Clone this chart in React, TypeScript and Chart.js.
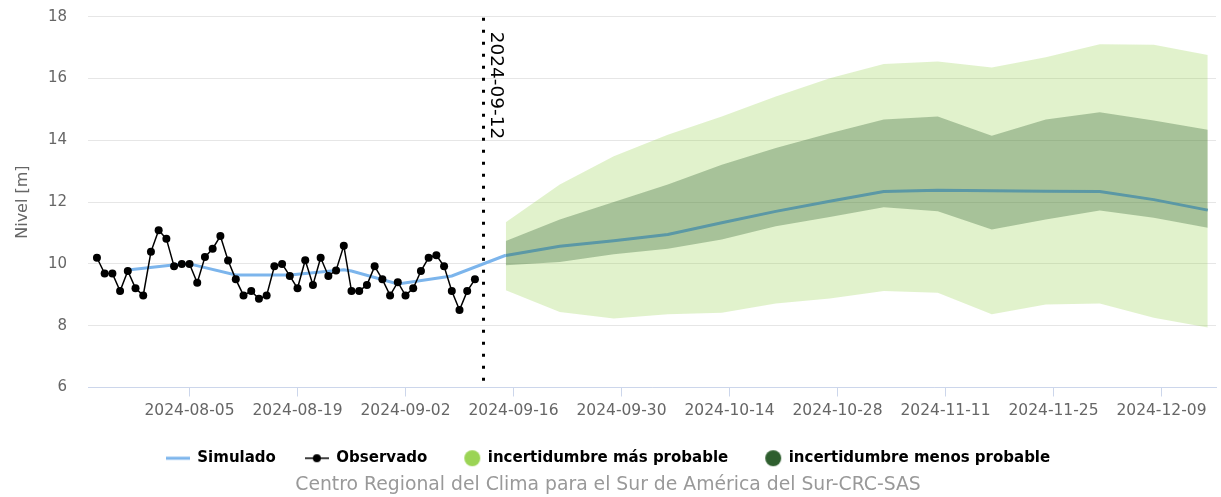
import React, { useEffect, useRef } from "react";
import { Chart, registerables } from "chart.js";

Chart.register(...registerables);

// ---------- data ----------
const observedDates = [
  "2024-07-24", "2024-07-25", "2024-07-26", "2024-07-27", "2024-07-28", "2024-07-29", "2024-07-30", "2024-07-31",
  "2024-08-01", "2024-08-02", "2024-08-03", "2024-08-04", "2024-08-05", "2024-08-06", "2024-08-07", "2024-08-08",
  "2024-08-09", "2024-08-10", "2024-08-11", "2024-08-12", "2024-08-13", "2024-08-14", "2024-08-15", "2024-08-16",
  "2024-08-17", "2024-08-18", "2024-08-19", "2024-08-20", "2024-08-21", "2024-08-22", "2024-08-23", "2024-08-24",
  "2024-08-25", "2024-08-26", "2024-08-27", "2024-08-28", "2024-08-29", "2024-08-30", "2024-08-31", "2024-09-01",
  "2024-09-02", "2024-09-03", "2024-09-04", "2024-09-05", "2024-09-06", "2024-09-07", "2024-09-08", "2024-09-09",
  "2024-09-10", "2024-09-11",
];
const observedValues = [
  10.2, 9.69, 9.69, 9.12, 9.77, 9.21, 8.98, 10.39,
  11.09, 10.81, 9.92, 10.0, 10.0, 9.39, 10.22, 10.49,
  10.9, 10.11, 9.5, 8.98, 9.12, 8.87, 8.98, 9.92,
  10.0, 9.61, 9.21, 10.12, 9.32, 10.2, 9.61, 9.79,
  10.59, 9.12, 9.12, 9.32, 9.92, 9.5, 8.98, 9.41,
  8.98, 9.21, 9.77, 10.2, 10.28, 9.92, 9.12, 8.51,
  9.12, 9.5,
];

const simulatedDates = [
  "2024-07-28", "2024-08-04", "2024-08-05", "2024-08-11", "2024-08-18",
  "2024-08-25", "2024-08-26", "2024-09-01", "2024-09-08", "2024-09-15",
];
const simulatedValues = [9.8, 10.0, 10.0, 9.64, 9.64, 9.81, 9.77, 9.35, 9.61, 10.28];

const forecastDates = [
  "2024-09-15", "2024-09-22", "2024-09-29", "2024-10-06", "2024-10-13", "2024-10-20", "2024-10-27",
  "2024-11-03", "2024-11-10", "2024-11-17", "2024-11-24", "2024-12-01", "2024-12-08", "2024-12-15",
];
const forecastMedian = [10.27, 10.57, 10.75, 10.95, 11.33, 11.7, 12.03, 12.34, 12.38, 12.37, 12.35, 12.34, 12.08, 11.74];
const innerLow = [9.96, 10.06, 10.31, 10.49, 10.79, 11.22, 11.52, 11.83, 11.7, 11.11, 11.44, 11.73, 11.49, 11.17];
const innerHigh = [10.74, 11.44, 12.0, 12.57, 13.21, 13.75, 14.23, 14.67, 14.77, 14.15, 14.67, 14.91, 14.64, 14.34];
const outerLow = [9.15, 8.44, 8.23, 8.37, 8.42, 8.72, 8.88, 9.12, 9.07, 8.37, 8.69, 8.72, 8.26, 7.94];
const outerHigh = [11.35, 12.57, 13.48, 14.18, 14.77, 15.42, 16.01, 16.47, 16.55, 16.36, 16.69, 17.11, 17.09, 16.76];

const xTickLabels = [
  "2024-08-05", "2024-08-19", "2024-09-02", "2024-09-16", "2024-09-30",
  "2024-10-14", "2024-10-28", "2024-11-11", "2024-11-25", "2024-12-09",
];
const yTicks = [6, 8, 10, 12, 14, 16, 18];
const axisStart = "2024-07-22T20:10";
const axisEnd = "2024-12-16T01:40";
const forecastIssueDate = "2024-09-12";

const legendLabels = ["Simulado", "Observado", "incertidumbre más probable", "incertidumbre menos probable"];
const creditText = "Centro Regional del Clima para el Sur de América del Sur-CRC-SAS";
const yTitle = "Nivel [m]";

// ---------- helpers ----------
const ORIGIN = Date.UTC(2024, 7, 5);
function toDay(s: string): number {
  const [d, t] = s.split("T");
  const [y, m, dd] = d.split("-").map(Number);
  let ms = Date.UTC(y, m - 1, dd);
  if (t) {
    const [hh, mm] = t.split(":").map(Number);
    ms += (hh * 60 + mm) * 60000;
  }
  return (ms - ORIGIN) / 86400000;
}
const pts = (dates: string[], vals: number[]) => dates.map((d, i) => ({ x: toDay(d), y: vals[i] }));

const FONT = "'DejaVu Sans', sans-serif";
const BLUE = "#7cb5ec";
const TEAL = "rgb(91,152,165)";
const LIGHT = "rgba(155,212,85,0.3)";
const DARK = "rgba(46,94,46,0.32)";

function makeIcon(kind: string): HTMLCanvasElement {
  const c = document.createElement("canvas");
  const w = kind === "line" || kind === "obs" ? 24 : 34;
  c.width = w;
  c.height = 18;
  const g = c.getContext("2d")!;
  if (kind === "line") {
    g.strokeStyle = BLUE;
    g.lineWidth = 3;
    g.beginPath();
    g.moveTo(0, 9);
    g.lineTo(24, 9);
    g.stroke();
  } else if (kind === "obs") {
    g.strokeStyle = "#000";
    g.lineWidth = 1.5;
    g.beginPath();
    g.moveTo(0, 9);
    g.lineTo(24, 9);
    g.stroke();
    g.fillStyle = "#000";
    g.beginPath();
    g.arc(12, 9, 4, 0, Math.PI * 2);
    g.fill();
  } else {
    g.fillStyle = kind === "light" ? "#9bd455" : "#2e5e2e";
    g.beginPath();
    g.arc(21, 9, 8, 0, Math.PI * 2);
    g.fill();
  }
  return c;
}

const issuePlugin = {
  id: "issueLine",
  afterDatasetsDraw(chart: any) {
    const { ctx, chartArea, scales } = chart;
    const x = Math.round(scales.x.getPixelForValue(toDay(forecastIssueDate))) + 0.5;
    ctx.save();
    ctx.strokeStyle = "#000";
    ctx.lineWidth = 3;
    ctx.setLineDash([3, 9]);
    ctx.beginPath();
    ctx.moveTo(x, chartArea.top + 1);
    ctx.lineTo(x, chartArea.bottom);
    ctx.stroke();
    ctx.setLineDash([]);
    ctx.translate(x + 7, chartArea.top + 15);
    ctx.rotate(Math.PI / 2);
    ctx.font = `18.5px ${FONT}`;
    ctx.fillStyle = "#000";
    ctx.textBaseline = "alphabetic";
    ctx.textAlign = "left";
    ctx.fillText(forecastIssueDate, 0, 0);
    ctx.restore();
  },
};

export default function App() {
  const ref = useRef<HTMLCanvasElement>(null);

  useEffect(() => {
    document.body.style.margin = "0";
    const icons = [makeIcon("line"), makeIcon("obs"), makeIcon("light"), makeIcon("dark")];
    const chart = new Chart(ref.current!, {
      type: "line",
      data: {
        datasets: [
          {
            label: legendLabels[1],
            data: pts(observedDates, observedValues),
            borderColor: "#000",
            backgroundColor: "#000",
            borderWidth: 1.5,
            pointRadius: 4,
            pointBorderWidth: 0,
            pointBackgroundColor: "#000",
            order: 0,
          },
          {
            label: legendLabels[0],
            data: pts(simulatedDates, simulatedValues),
            borderColor: BLUE,
            borderWidth: 3,
            pointRadius: 0,
            order: 1,
          },
          {
            label: "mediana",
            data: pts(forecastDates, forecastMedian),
            borderColor: TEAL,
            borderWidth: 3,
            pointRadius: 0,
            order: 2,
          },
          {
            label: "outerLow",
            data: pts(forecastDates, outerLow),
            borderWidth: 0,
            pointRadius: 0,
            fill: false,
            order: 6,
          },
          {
            label: legendLabels[2],
            data: pts(forecastDates, outerHigh),
            borderWidth: 0,
            pointRadius: 0,
            backgroundColor: LIGHT,
            fill: "-1",
            order: 6,
          },
          {
            label: "innerLow",
            data: pts(forecastDates, innerLow),
            borderWidth: 0,
            pointRadius: 0,
            fill: false,
            order: 5,
          },
          {
            label: legendLabels[3],
            data: pts(forecastDates, innerHigh),
            borderWidth: 0,
            pointRadius: 0,
            backgroundColor: DARK,
            fill: "-1",
            order: 5,
          },
        ],
      },
      options: {
        responsive: false,
        animation: false,
        devicePixelRatio: 1,
        layout: { padding: { top: 16.7, right: 5, bottom: 2.5, left: 0 } },
        font: { family: FONT },
        plugins: {
          tooltip: { enabled: false },
          legend: {
            position: "bottom",
            labels: {
              usePointStyle: true,
              pointStyleWidth: 24,
              padding: 29,
              color: "#333",
              font: { family: FONT, size: 15, weight: "bold" },
              generateLabels: () =>
                legendLabels.map((t, i) => ({
                  text: t,
                  pointStyle: icons[i],
                  fillStyle: "transparent",
                  strokeStyle: "transparent",
                  lineWidth: 0,
                  hidden: false,
                  datasetIndex: [1, 0, 4, 6][i],
                })),
            },
          },
          subtitle: {
            display: true,
            position: "bottom",
            text: creditText,
            color: "#999",
            font: { family: FONT, size: 18.8, lineHeight: 1 },
            padding: 0,
          },
        },
        scales: {
          x: {
            type: "linear",
            min: toDay(axisStart),
            max: toDay(axisEnd),
            afterBuildTicks: (s: any) => {
              s.ticks = xTickLabels.map((l) => ({ value: toDay(l) }));
            },
            afterFit: (s: any) => {
              s.height = 34.2;
            },
            ticks: {
              callback: (_v: any, i: number) => xTickLabels[i],
              color: "#666",
              font: { family: FONT, size: 15.5 },
              padding: 5,
              maxRotation: 0,
              autoSkip: false,
            },
            grid: { drawOnChartArea: false, drawTicks: true, tickLength: 9, color: "#ccd6eb" },
            border: { display: true, color: "#ccd6eb" },
          },
          y: {
            min: 6,
            max: 18,
            afterBuildTicks: (s: any) => {
              s.ticks = yTicks.map((v) => ({ value: v }));
            },
            afterFit: (s: any) => {
              s.width = 88;
            },
            ticks: { color: "#666", font: { family: FONT, size: 15 }, padding: 0 },
            grid: { color: "#e6e6e6", drawTicks: true, tickLength: 21, tickColor: "rgba(0,0,0,0)" },
            border: { display: false },
            title: {
              display: true,
              text: yTitle,
              color: "#666",
              font: { family: FONT, size: 16 },
              padding: { top: 13, bottom: 0 },
            },
          },
        },
      },
      plugins: [issuePlugin],
    } as any);
    return () => chart.destroy();
  }, []);

  return (
    <div style={{ width: 1221, height: 497 }}>
      <canvas ref={ref} width={1221} height={497} style={{ display: "block" }} />
    </div>
  );
}
